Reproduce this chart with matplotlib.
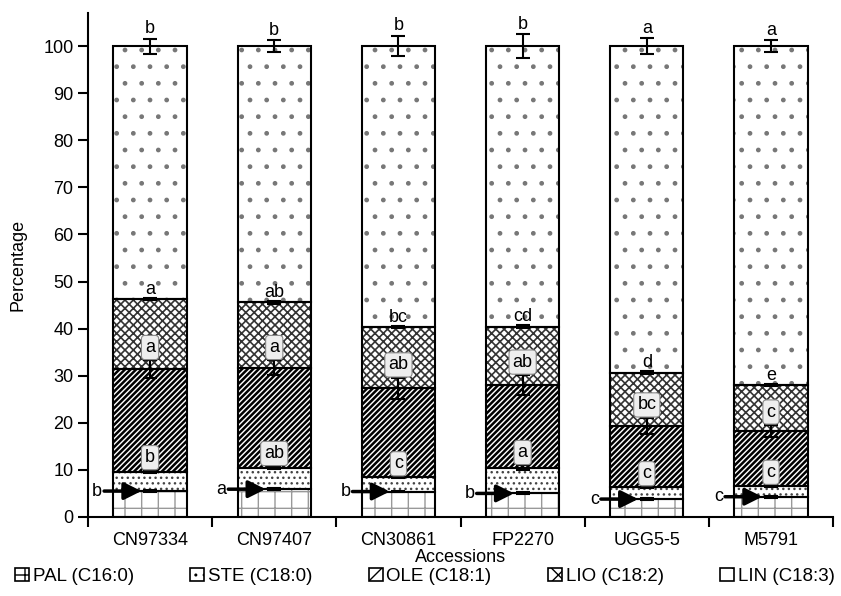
import numpy as np
import matplotlib
matplotlib.use('Agg')
import matplotlib.pyplot as plt
from matplotlib.patches import Patch

plt.rcParams['font.family'] = ['Liberation Sans', 'DejaVu Sans']
plt.rcParams['hatch.linewidth'] = 1.0

# data (percent of total fatty acids)
accessions = ['CN97334', 'CN97407', 'CN30861', 'FP2270', 'UGG5-5', 'M5791']
pal = [5.5, 5.9, 5.4, 5.0, 3.8, 4.3]
ste = [4.1, 4.6, 3.0, 5.5, 2.5, 2.3]
ole = [21.8, 21.2, 18.9, 17.6, 13.1, 11.7]
lio = [14.9, 13.9, 13.1, 12.3, 11.2, 9.7]
lin = [53.7, 54.4, 59.6, 59.6, 69.4, 72.0]

pal_err = [0.2, 0.2, 0.2, 0.2, 0.2, 0.2]
ste_err = [0.3, 0.3, 0.2, 0.5, 0.2, 0.2]
ole_err = [1.9, 1.6, 2.3, 2.1, 1.7, 1.3]
lio_err = [0.3, 0.3, 0.2, 0.3, 0.3, 0.2]
lin_err = [1.6, 1.3, 2.2, 2.5, 1.7, 1.3]

pal_lab = ['b', 'a', 'b', 'b', 'c', 'c']
ste_lab = ['b', 'ab', 'c', 'a', 'c', 'c']
ole_lab = ['a', 'a', 'ab', 'ab', 'bc', 'c']
lio_lab = ['a', 'ab', 'bc', 'cd', 'd', 'e']
lin_lab = ['b', 'b', 'b', 'b', 'a', 'a']

names = ['PAL (C16:0)', 'STE (C18:0)', 'OLE (C18:1)', 'LIO (C18:2)', 'LIN (C18:3)']
hatches = ['+', '...', '//////', 'xxxx', '.']
hcolors = ['#999999', '#444444', 'black', '#333333', '#777777']
hwidths = [1.0, 1.0, 1.8, 1.2, 1.0]

x = np.arange(len(accessions))
w = 0.59

fig = plt.figure(figsize=(8.41, 5.96), dpi=100)
ax = fig.add_axes([0.1046, 0.1326, 0.886, 0.8454])

segs = [pal, ste, ole, lio, lin]
errs = [pal_err, ste_err, ole_err, lio_err, lin_err]
bottom = np.zeros(len(x))
tops = []
for vals, h, hc, hw in zip(segs, hatches, hcolors, hwidths):
    vals = np.array(vals)
    with plt.rc_context({'hatch.linewidth': hw}):
        ax.bar(x, vals, w, bottom=bottom, color='white', edgecolor=hc, hatch=h, linewidth=0, zorder=2)
    ax.bar(x, vals, w, bottom=bottom, fill=False, edgecolor='black', linewidth=1.5, zorder=3)
    bottom = bottom + vals
    tops.append(bottom.copy())

for top, e in zip(tops, errs):
    ax.errorbar(x, top, yerr=e, fmt='none', ecolor='black', elinewidth=1.5,
                capsize=5, capthick=1.5, zorder=4)

box = dict(boxstyle='round,pad=0.2', facecolor='#eeeeee', edgecolor='#888888', linewidth=0.8)
for i in range(len(x)):
    # LIN and LIO letters above the segment
    ax.annotate(lin_lab[i], (x[i], tops[4][i] + lin_err[i]), xytext=(0, 1), textcoords='offset points',
                ha='center', va='bottom', fontsize=13)
    ax.annotate(lio_lab[i], (x[i], tops[3][i] + lio_err[i]), xytext=(0, 0), textcoords='offset points',
                ha='center', va='bottom', fontsize=13)
    # boxed letters for OLE and STE
    ax.annotate(ole_lab[i], (x[i], tops[2][i] + ole_err[i]), xytext=(0, 3), textcoords='offset points',
                ha='center', va='bottom', fontsize=13, bbox=box, zorder=5)
    ax.annotate(ste_lab[i], (x[i], tops[1][i] + ste_err[i]), xytext=(0, 3), textcoords='offset points',
                ha='center', va='bottom', fontsize=13, bbox=box, zorder=5)
    # PAL letter with arrow
    ax.annotate('', xy=(x[i] - 0.07, tops[0][i]), xytext=(x[i] - 0.37, tops[0][i]),
                arrowprops=dict(arrowstyle='-|>', color='black', lw=2.5, mutation_scale=26,
                                shrinkA=0, shrinkB=0), zorder=6)
    ax.text(x[i] - 0.385, tops[0][i], pal_lab[i], ha='right', va='center', fontsize=13, zorder=6)

ax.set_xlim(-0.5, len(x) - 0.5)
ax.set_ylim(0, 107)
ax.set_yticks(np.arange(0, 101, 10))
ax.set_xticks(x)
ax.set_xticklabels(accessions, fontsize=13)
ax.set_xticks(np.arange(-0.5, len(x)), minor=True)
ax.tick_params(axis='x', which='major', length=0, pad=11)
ax.tick_params(axis='x', which='minor', length=7, width=1.5, direction='out')
ax.tick_params(axis='y', labelsize=13, length=7, width=1.5, direction='out')
for s in ['top', 'right']:
    ax.spines[s].set_visible(False)
for s in ['left', 'bottom']:
    ax.spines[s].set_linewidth(1.5)

ax.set_ylabel('Percentage', fontsize=13, labelpad=12)
ax.set_xlabel('Accessions', fontsize=13, labelpad=0)

handles = []
for h, hc in zip(hatches, hcolors):
    handles.append(Patch(facecolor='white', edgecolor='black', hatch=h[:2], linewidth=1.2))
fig.legend(handles, names, loc='lower center', bbox_to_anchor=(0.505, -0.01), ncol=5, frameon=False,
           fontsize=13.5, handlelength=0.75, handleheight=0.75, handletextpad=0.2, columnspacing=3.0)

fig.savefig('out.png', dpi=100)
